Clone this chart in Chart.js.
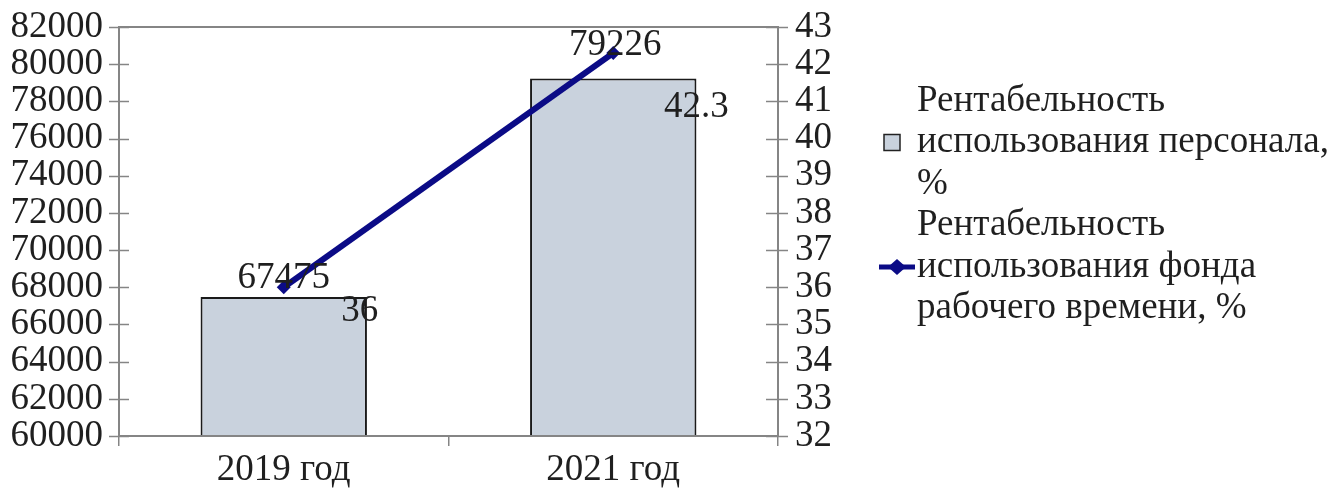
<!DOCTYPE html>
<html>
<head>
<meta charset="utf-8">
<script src="https://cdn.jsdelivr.net/npm/chart.js@4.4.1/dist/chart.umd.min.js"></script>
<style>
  html, body { margin: 0; padding: 0; background: #ffffff; }
  #wrap { width: 1336px; height: 488px; position: relative; }
</style>
</head>
<body>
<div id="wrap"><canvas id="c" width="1336" height="488"></canvas></div>
<script>
// Categories and series
const categories = ['2019 год', '2021 год'];
const staffProfitability = [67475, 79226];     // bars, left axis
const workTimeProfitability = [36, 42.3];      // line, right axis

// Axis ranges
const leftAxis = { min: 60000, max: 82000, step: 2000 };
const rightAxis = { min: 32, max: 43, step: 1 };

// Legend text (wrapped lines)
const legendBarLines = ['Рентабельность', 'использования персонала,', '%'];
const legendLineLines = ['Рентабельность', 'использования фонда', 'рабочего времени, %'];

const FONT = '"Liberation Serif", "Times New Roman", serif';
const FONT_SIZE = 37;
const TEXT = '#1f1f1f';
const AXIS = '#858585';
const BAR_FILL = '#c9d2dd';
const LINE_COLOR = '#0b0b86';

// Frame around the plot and tick marks that cross the axes
const framePlugin = {
  id: 'frame',
  afterDatasetsDraw(chart) {
    const { ctx, chartArea: a } = chart;
    ctx.save();
    ctx.strokeStyle = AXIS;
    ctx.lineWidth = 2;
    ctx.strokeRect(a.left, a.top, a.right - a.left, a.bottom - a.top);
    ctx.lineWidth = 1.5;
    const y = chart.scales.y, y1 = chart.scales.y1;
    y.ticks.forEach(t => {
      const py = Math.round(y.getPixelForValue(t.value)) + 0.5;
      ctx.beginPath(); ctx.moveTo(a.left - 10, py); ctx.lineTo(a.left + 10, py); ctx.stroke();
    });
    y1.ticks.forEach(t => {
      const py = Math.round(y1.getPixelForValue(t.value)) + 0.5;
      ctx.beginPath(); ctx.moveTo(a.right - 12, py); ctx.lineTo(a.right + 10, py); ctx.stroke();
    });
    ctx.restore();
  }
};

// Value labels for bars and points
const valueLabels = {
  id: 'valueLabels',
  afterDatasetsDraw(chart, args, opts) {
    const { ctx } = chart;
    ctx.save();
    ctx.font = FONT_SIZE + 'px ' + FONT;
    ctx.fillStyle = TEXT;
    ctx.textAlign = 'center';
    ctx.textBaseline = 'middle';
    chart.data.datasets.forEach((ds, di) => {
      const meta = chart.getDatasetMeta(di);
      meta.data.forEach((el, i) => {
        const off = opts.offsets[ds.type || 'bar'][i];
        ctx.fillText(String(ds.data[i]), el.x + off[0], el.y + off[1]);
      });
    });
    ctx.restore();
  }
};

// Legend at the right, with wrapped lines
const sideLegend = {
  id: 'sideLegend',
  afterDraw(chart) {
    const { ctx } = chart;
    const x0 = 917, lh = 41.5;
    ctx.save();
    ctx.font = FONT_SIZE + 'px ' + FONT;
    ctx.fillStyle = TEXT;
    ctx.textAlign = 'left';
    ctx.textBaseline = 'middle';
    let y = 101;
    legendBarLines.forEach((s, i) => ctx.fillText(s, x0, y + i * lh));
    const sqY = y + lh;
    ctx.fillStyle = BAR_FILL;
    ctx.fillRect(884, sqY - 8, 16, 16);
    ctx.strokeStyle = '#222';
    ctx.lineWidth = 1.5;
    ctx.strokeRect(884, sqY - 8, 16, 16);
    y = 101 + 3 * lh;
    ctx.fillStyle = TEXT;
    legendLineLines.forEach((s, i) => ctx.fillText(s, x0, y + i * lh));
    const lnY = y + lh;
    ctx.strokeStyle = LINE_COLOR;
    ctx.lineWidth = 5;
    ctx.beginPath(); ctx.moveTo(879, lnY); ctx.lineTo(915, lnY); ctx.stroke();
    ctx.fillStyle = LINE_COLOR;
    ctx.beginPath();
    ctx.moveTo(897, lnY - 8); ctx.lineTo(906, lnY); ctx.lineTo(897, lnY + 8); ctx.lineTo(888, lnY);
    ctx.closePath(); ctx.fill();
    ctx.restore();
  }
};

const tickFont = { family: FONT, size: FONT_SIZE, lineHeight: 1 };
const plainTick = v => String(v);

new Chart(document.getElementById('c'), {
  type: 'bar',
  data: {
    labels: categories,
    datasets: [
      {
        type: 'line',
        label: legendLineLines.join(' '),
        data: workTimeProfitability,
        yAxisID: 'y1',
        borderColor: LINE_COLOR,
        backgroundColor: LINE_COLOR,
        borderWidth: 6,
        pointStyle: 'rectRot',
        pointRadius: 7,
        pointBorderWidth: 0,
        order: 0
      },
      {
        type: 'bar',
        label: legendBarLines.join(' '),
        data: staffProfitability,
        yAxisID: 'y',
        backgroundColor: BAR_FILL,
        borderColor: '#1a1a1a',
        borderWidth: 2,
        borderSkipped: false,
        barPercentage: 0.505,
        categoryPercentage: 1,
        order: 1
      }
    ]
  },
  options: {
    responsive: false,
    animation: false,
    devicePixelRatio: 1,
    layout: { padding: { top: 27, right: 498, bottom: 0, left: 0 } },
    plugins: {
      legend: { display: false },
      tooltip: { enabled: false },
      valueLabels: {
        offsets: {
          bar: [[0, -19], [2, -33]],
          line: [[76, 24], [83, 54]]
        }
      }
    },
    scales: {
      x: {
        offset: true,
        grid: { offset: true, drawOnChartArea: false, drawTicks: true, tickLength: 10, color: AXIS, lineWidth: 1.5 },
        border: { display: true, color: AXIS, width: 2 },
        ticks: { font: tickFont, color: TEXT, padding: 6 },
        afterFit(s) { s.height = 52; }
      },
      y: {
        position: 'left',
        min: leftAxis.min,
        max: leftAxis.max,
        grid: { display: false },
        border: { display: true, color: AXIS, width: 2 },
        ticks: { stepSize: leftAxis.step, autoSkip: false, font: tickFont, color: TEXT, padding: 8, callback: plainTick },
        afterFit(s) { s.width = 119; s.paddingTop = 0; s.paddingBottom = 0; }
      },
      y1: {
        position: 'right',
        min: rightAxis.min,
        max: rightAxis.max,
        grid: { display: false },
        border: { display: true, color: AXIS, width: 2 },
        ticks: { stepSize: rightAxis.step, autoSkip: false, font: tickFont, color: TEXT, padding: 9, callback: plainTick },
        afterFit(s) { s.width = 60; s.paddingTop = 0; s.paddingBottom = 0; }
      }
    }
  },
  plugins: [framePlugin, valueLabels, sideLegend]
});
</script>
</body>
</html>
